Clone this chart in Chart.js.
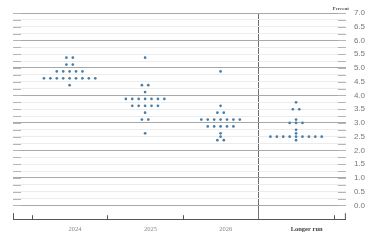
<!DOCTYPE html>
<html>
<head>
<meta charset="UTF-8">
<script src="https://cdn.jsdelivr.net/npm/chart.js"></script>
<style>
    body { margin: 0; background: #fff; }
    #wrap { width: 385px; height: 240px; }
</style>
</head>
<body>
<div id="wrap"><canvas id="dots"></canvas></div>
<script>
    // FOMC dot plot: each list gives the rate levels and how many dots sit at each level
    var categories = ['2024', '2025', '2026', 'Longer run'];

    var rates2024 = [5.375, 5.125, 4.875, 4.625, 4.375];
    var counts2024 = [2, 2, 5, 9, 1];

    var rates2025 = [5.375, 4.375, 4.125, 3.875, 3.625, 3.375, 3.125, 2.625];
    var counts2025 = [1, 2, 1, 7, 5, 1, 2, 1];

    var rates2026 = [4.875, 3.625, 3.375, 3.125, 2.875, 2.625, 2.5, 2.375];
    var counts2026 = [1, 1, 2, 7, 5, 1, 1, 2];

    var ratesLonger = [3.75, 3.5, 3.125, 3.0, 2.75, 2.625, 2.5, 2.375];
    var countsLonger = [1, 2, 1, 3, 1, 1, 9, 1];

    var yTickLabels = ['0.0', '0.5', '1.0', '1.5', '2.0', '2.5', '3.0', '3.5', '4.0', '4.5', '5.0', '5.5', '6.0', '6.5', '7.0'];

    var dotGap = 0.085; // horizontal distance between neighbouring dots, in category units
    var labelPos = [0.07, 1.07, 2.07, 3.14]; // where each category name sits on the x scale

    function buildDots(catIndex, rates, counts) {
        var pts = [];
        rates.forEach(function(r, i) {
            var n = counts[i];
            for (var k = 0; k < n; k++) {
                pts.push({ x: catIndex + (k - (n - 1) / 2) * dotGap, y: r });
            }
        });
        return pts;
    }

    var allDots = []
        .concat(buildDots(0, rates2024, counts2024))
        .concat(buildDots(1, rates2025, counts2025))
        .concat(buildDots(2, rates2026, counts2026))
        .concat(buildDots(3, ratesLonger, countsLonger));

    // short dark stubs at both ends of the grid lines, ticks on the bottom line, "Percent"
    var decor = {
        id: 'decor',
        beforeDatasetsDraw: function(chart) {
            var ctx = chart.ctx, a = chart.chartArea;
            var ys = chart.scales.y, xs = chart.scales.x;
            ctx.save();
            ctx.strokeStyle = '#b5b5b5';
            ctx.lineWidth = 1;
            ys.ticks.forEach(function(t) {
                if (t.value < 0) return;
                var py = Math.round(ys.getPixelForValue(t.value)) + 0.5;
                ctx.beginPath();
                ctx.moveTo(a.left, py); ctx.lineTo(a.left + 8, py);
                ctx.moveTo(a.right - 8, py); ctx.lineTo(a.right, py);
                ctx.stroke();
            });
            ctx.strokeStyle = '#555';
            [-0.5, 0.5, 1.5, 3.5].forEach(function(v) {
                var px = Math.round(xs.getPixelForValue(v)) + 0.5;
                ctx.beginPath();
                ctx.moveTo(px, a.bottom); ctx.lineTo(px, a.bottom - 4);
                ctx.stroke();
            });
            ctx.beginPath();
            ctx.moveTo(a.left + 0.5, a.bottom); ctx.lineTo(a.left + 0.5, a.bottom - 6);
            ctx.moveTo(a.right - 0.5, a.bottom); ctx.lineTo(a.right - 0.5, a.bottom - 6);
            ctx.stroke();
            ctx.fillStyle = '#555';
            ctx.font = 'bold 5px "Liberation Serif"';
            ctx.textAlign = 'right';
            ctx.textBaseline = 'bottom';
            ctx.fillText('Percent', a.right + 3, a.top - 2);
            ctx.restore();
        }
    };

    new Chart(document.getElementById('dots'), {
        type: 'scatter',
        data: {
            datasets: [{
                data: allDots,
                backgroundColor: '#4a7ea6',
                borderColor: '#4a7ea6',
                borderWidth: 0,
                pointRadius: 1.35
            }]
        },
        options: {
            responsive: true,
            maintainAspectRatio: false,
            animation: false,
            layout: { padding: { left: 13, right: 12, top: 13, bottom: 1 } },
            plugins: { legend: { display: false }, tooltip: { enabled: false } },
            scales: {
                x: {
                    type: 'linear',
                    min: -0.75,
                    max: 3.66,
                    afterBuildTicks: function(axis) {
                        axis.ticks = [-0.5, 0.5, 1.5, 2.5, 3.5].concat(labelPos)
                            .sort(function(p, q) { return p - q; })
                            .map(function(v) { return { value: v }; });
                    },
                    grid: {
                        drawTicks: false,
                        color: function(c) { return c.tick && c.tick.value === 2.5 ? '#707070' : 'rgba(0,0,0,0)'; }
                    },
                    border: { display: true, color: '#555', width: 1 },
                    ticks: {
                        autoSkip: false,
                        maxRotation: 0,
                        padding: 6,
                        color: function(c) { return c.tick && c.tick.value === labelPos[3] ? '#444' : '#888'; },
                        font: function(c) {
                            return { family: 'Liberation Serif', size: 6.5, weight: c.tick && c.tick.value === labelPos[3] ? 'bold' : 'normal' };
                        },
                        callback: function(v) {
                            var i = labelPos.indexOf(v);
                            return i >= 0 ? categories[i] : '';
                        }
                    }
                },
                y: {
                    position: 'right',
                    min: -0.5,
                    max: 7,
                    grid: {
                        drawTicks: false,
                        color: function(c) {
                            if (!c.tick || c.tick.value < 0) return 'rgba(0,0,0,0)';
                            return Number.isInteger(c.tick.value) ? '#a8a8a8' : '#ececec';
                        }
                    },
                    border: { display: false },
                    ticks: {
                        stepSize: 0.25,
                        autoSkip: false,
                        padding: 8,
                        color: '#777',
                        font: { family: 'Liberation Sans', size: 8 },
                        callback: function(v) {
                            var i = v * 2;
                            return (v >= 0 && Number.isInteger(i)) ? yTickLabels[i] : '';
                        }
                    }
                }
            }
        },
        plugins: [decor]
    });
</script>
</body>
</html>
